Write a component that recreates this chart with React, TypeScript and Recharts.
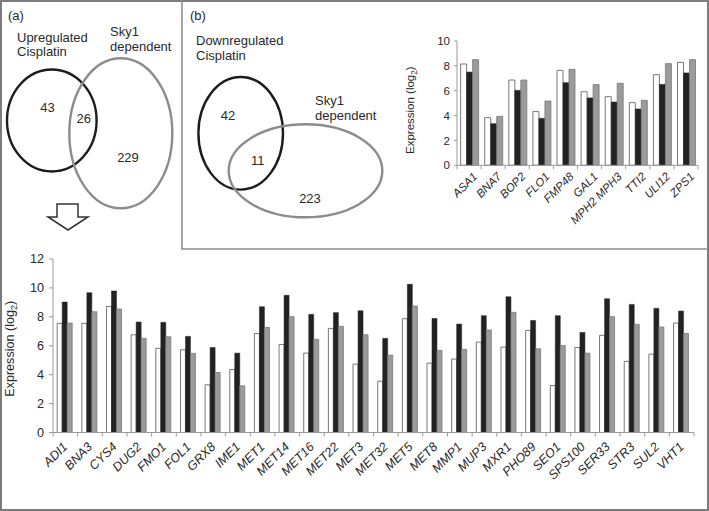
import React from 'react'
import { BarChart, Bar, XAxis, YAxis } from 'recharts'

// panel (b): downregulated genes
const downGenes = ['ASA1', 'BNA7', 'BOP2', 'FLO1', 'FMP48', 'GAL1', 'MPH2 MPH3', 'TTI2', 'ULI12', 'ZPS1']
const downWhite = [8.15, 3.83, 6.86, 4.32, 7.64, 5.92, 5.52, 5.04, 7.29, 8.28]
const downBlack = [7.5, 3.35, 6.03, 3.78, 6.65, 5.42, 5.09, 4.53, 6.51, 7.43]
const downGray = [8.5, 3.94, 6.86, 5.17, 7.72, 6.49, 6.6, 5.23, 8.18, 8.5]
const downTicks = [0, 2, 4, 6, 8, 10]

// panel (a): upregulated, sky1 dependent genes
const upGenes = [
  'ADI1', 'BNA3', 'CYS4', 'DUG2', 'FMO1', 'FOL1', 'GRX8', 'IME1', 'MET1', 'MET14',
  'MET16', 'MET22', 'MET3', 'MET32', 'MET5', 'MET8', 'MMP1', 'MUP3', 'MXR1', 'PHO89',
  'SEO1', 'SPS100', 'SER33', 'STR3', 'SUL2', 'VHT1',
]
const upWhite = [
  7.55, 7.55, 8.72, 6.76, 5.82, 5.72, 3.3, 4.36, 6.85, 6.09,
  5.49, 7.2, 4.73, 3.55, 7.87, 4.8, 5.08, 6.25, 5.91, 7.06,
  3.25, 5.88, 6.72, 4.92, 5.42, 7.57,
]
const upBlack = [
  9.02, 9.67, 9.79, 7.64, 7.62, 6.65, 5.88, 5.49, 8.7, 9.49,
  8.17, 8.29, 8.42, 6.51, 10.25, 7.89, 7.5, 8.08, 9.39, 7.75,
  8.08, 6.92, 9.25, 8.86, 8.59, 8.4,
]
const upGray = [
  7.57, 8.35, 8.54, 6.51, 6.62, 5.47, 4.15, 3.23, 7.27, 8.01,
  6.44, 7.34, 6.76, 5.35, 8.75, 5.68, 5.75, 7.09, 8.31, 5.79,
  6.02, 5.49, 8.01, 7.48, 7.29, 6.85,
]
const upTicks = [0, 2, 4, 6, 8, 10, 12]

const downData = downGenes.map((gene, i) => ({ gene, white: downWhite[i], black: downBlack[i], gray: downGray[i] }))
const upData = upGenes.map((gene, i) => ({ gene, white: upWhite[i], black: upBlack[i], gray: upGray[i] }))

const FONT = '"Liberation Sans", Arial, Helvetica, sans-serif'
const AXIS = '#9a9a9a'
const TEXT = '#2a2a2a'

function GeneTick(props: any) {
  const { x, y, payload, index, band, dx, dy, fontSize, count } = props
  return (
    <g>
      <line x1={x - band / 2} y1={y} x2={x - band / 2} y2={y + 4} stroke={AXIS} />
      {index === count - 1 && <line x1={x + band / 2} y1={y} x2={x + band / 2} y2={y + 4} stroke={AXIS} />}
      <text
        transform={`translate(${x + dx},${y + dy}) rotate(-45)`}
        textAnchor='end'
        fontSize={fontSize}
        fontStyle='italic'
        fill={TEXT}
        fontFamily={FONT}
      >
        {payload.value}
      </text>
    </g>
  )
}

function yLabel(shiftX: number, shiftY: number, fontSize: number) {
  return ({ viewBox }: any) => {
    const cx = viewBox.x + shiftX
    const cy = viewBox.y + viewBox.height / 2 + shiftY
    return (
      <text
        transform={`translate(${cx},${cy}) rotate(-90)`}
        textAnchor='middle'
        fontSize={fontSize}
        fill={TEXT}
        fontFamily={FONT}
      >
        Expression (log
        <tspan fontSize={fontSize * 0.72} dy={3}>2</tspan>
        <tspan dy={-3}>)</tspan>
      </text>
    )
  }
}

function Venns() {
  const t = { fontSize: 13, fill: TEXT, fontFamily: FONT }
  return (
    <svg width={709} height={511} style={{ position: 'absolute', left: 0, top: 0 }}>
      <rect x={1} y={1} width={707} height={509} fill='none' stroke='#7c7c7c' strokeWidth={2} />
      <polyline points='182,0 182,249 708,249' fill='none' stroke='#8a8a8a' strokeWidth={1.5} />

      <text x={8} y={19.5} {...t}>(a)</text>
      <text x={17} y={41.5} {...t}>Upregulated</text>
      <text x={17} y={56} {...t}>Cisplatin</text>
      <text x={110} y={36} {...t}>Sky1</text>
      <text x={110} y={50.5} {...t}>dependent</text>
      <ellipse cx={51.8} cy={120.5} rx={44.8} ry={51} fill='none' stroke='#1c1c1c' strokeWidth={2.4} />
      <ellipse cx={120.8} cy={133.3} rx={51.5} ry={75} fill='none' stroke='#8c8c8c' strokeWidth={2.4} />
      <text x={47.5} y={111.7} textAnchor='middle' {...t}>43</text>
      <text x={83.8} y={123} textAnchor='middle' {...t}>26</text>
      <text x={128} y={161.7} textAnchor='middle' {...t}>229</text>
      <polygon points='57,204 78,204 78,217 88,217 68,230 48,217 57,217' fill='#fff' stroke='#333' strokeWidth={1.5} />

      <text x={190} y={19.5} {...t}>(b)</text>
      <text x={196} y={44.5} {...t}>Downregulated</text>
      <text x={196} y={59.5} {...t}>Cisplatin</text>
      <text x={315} y={104.5} {...t}>Sky1</text>
      <text x={315} y={119.5} {...t}>dependent</text>
      <ellipse cx={240.7} cy={133.3} rx={42.3} ry={56.3} fill='none' stroke='#1c1c1c' strokeWidth={2.4} />
      <ellipse cx={305.5} cy={170.8} rx={76.8} ry={46.5} fill='none' stroke='#8c8c8c' strokeWidth={2.4} />
      <text x={228} y={120} textAnchor='middle' {...t}>42</text>
      <text x={257.8} y={165} textAnchor='middle' {...t}>11</text>
      <text x={310} y={203} textAnchor='middle' {...t}>223</text>
    </svg>
  )
}

function Bars() {
  return [
    <Bar key='w' dataKey='white' fill='#ffffff' stroke='#555' strokeWidth={0.8} isAnimationActive={false} />,
    <Bar key='b' dataKey='black' fill='#222222' stroke='#222' strokeWidth={0.5} isAnimationActive={false} />,
    <Bar key='g' dataKey='gray' fill='#9b9b9b' stroke='#777' strokeWidth={0.8} isAnimationActive={false} />,
  ]
}

export default function App() {
  const topBand = 241 / downGenes.length
  const botBand = 641 / upGenes.length
  return (
    <div style={{ position: 'absolute', left: 0, top: 0, width: 709, height: 511, background: '#fff', fontFamily: FONT }}>
      <Venns />

      <div style={{ position: 'absolute', left: 400, top: 20 }}>
        <BarChart
          width={309}
          height={230}
          data={downData}
          margin={{ top: 21, right: 11, left: 27, bottom: 4.7 }}
          barCategoryGap='15%'
          barGap={0}
        >
          <XAxis
            dataKey='gene'
            interval={0}
            height={80}
            stroke={AXIS}
            tickLine={false}
            tickSize={0}
            tickMargin={0}
            tick={<GeneTick band={topBand} dx={9} dy={12} fontSize={11.5} count={downGenes.length} />}
          />
          <YAxis
            width={30}
            domain={[0, 10]}
            ticks={downTicks}
            interval={0}
            stroke={AXIS}
            tickSize={3}
            tickMargin={4}
            tick={{ fill: TEXT, fontSize: 11.5, fontFamily: FONT }}
            label={{ content: yLabel(-13, 7, 11.5) }}
          />
          {Bars()}
        </BarChart>
      </div>

      <div style={{ position: 'absolute', left: 0, top: 245 }}>
        <BarChart
          width={709}
          height={262}
          data={upData}
          margin={{ top: 14, right: 15, left: 25, bottom: 6.5 }}
          barCategoryGap='17%'
          barGap={0}
        >
          <XAxis
            dataKey='gene'
            interval={0}
            height={68}
            stroke={AXIS}
            tickLine={false}
            tickSize={0}
            tickMargin={0}
            tick={<GeneTick band={botBand} dx={3} dy={15} fontSize={12.6} count={upGenes.length} />}
          />
          <YAxis
            width={28}
            domain={[0, 12]}
            ticks={upTicks}
            interval={0}
            stroke={AXIS}
            tickSize={4}
            tickMargin={5}
            tick={{ fill: TEXT, fontSize: 12.6, fontFamily: FONT }}
            label={{ content: yLabel(-11, 3, 12.6) }}
          />
          {Bars()}
        </BarChart>
      </div>
    </div>
  )
}
